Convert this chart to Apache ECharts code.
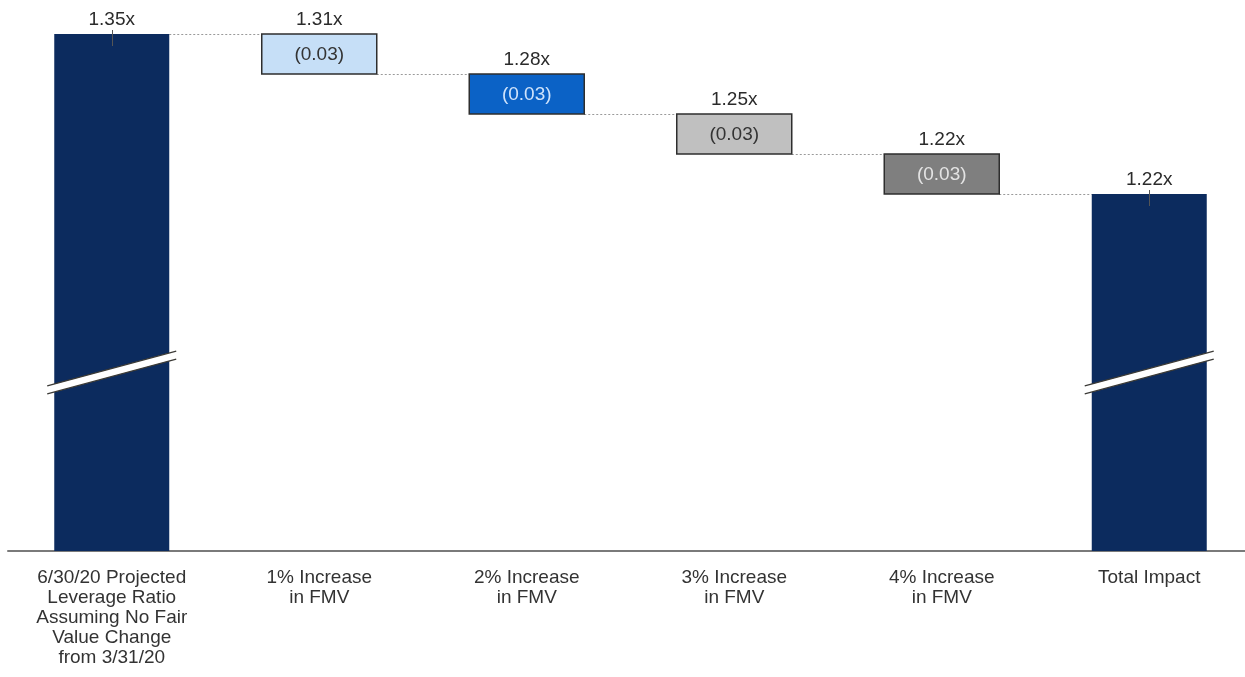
<!DOCTYPE html>
<html>
<head>
<meta charset="utf-8">
<script src="https://cdn.jsdelivr.net/npm/echarts@6/dist/echarts.min.js"></script>
<style>
  html, body { margin: 0; padding: 0; background: #ffffff; overflow: hidden; }
  #chart { width: 1245px; height: 677px; }
</style>
</head>
<body>
<div id="chart"></div>
<script>
// ---- data ----
const categories = [
  '6/30/20 Projected\nLeverage Ratio\nAssuming No Fair\nValue Change\nfrom 3/31/20',
  '1% Increase\nin FMV',
  '2% Increase\nin FMV',
  '3% Increase\nin FMV',
  '4% Increase\nin FMV',
  'Total Impact'
];
const isTotal = [true, false, false, false, false, true];
const barTop = [1.35, 1.35, 1.3175, 1.285, 1.2525, 1.22];
const barBottom = [null, 1.3175, 1.285, 1.2525, 1.22, null];
const topLabels = ['1.35x', '1.31x', '1.28x', '1.25x', '1.22x', '1.22x'];
const changeLabels = ['', '(0.03)', '(0.03)', '(0.03)', '(0.03)', ''];
const axisBase = 0.93;     // broken axis base
const breakValue = 1.075;  // where the axis-break mark sits on total bars

// ---- styles ----
const fills = ['#0c2b5e', '#c6dff7', '#0b62c6', '#c0c0c0', '#7f7f7f', '#0c2b5e'];
const innerText = ['#333', '#333333', '#cfe3fb', '#333333', '#e4e4e4', '#333'];
const FONT = 'Liberation Sans, Arial, sans-serif';
const barRatio = 115 / 207.5;

const seriesData = categories.map((c, i) => [
  i,
  isTotal[i] ? axisBase : barBottom[i],
  barTop[i]
]);

const chart = echarts.init(document.getElementById('chart'));

function renderItem(params, api) {
  const i = api.value(0);
  const lo = api.value(1);
  const hi = api.value(2);
  const pTop = api.coord([i, hi]);
  const pBot = api.coord([i, lo]);
  const catW = api.size([1, 0])[0];
  const bw = catW * barRatio;
  const cx = pTop[0];
  const children = [];

  // connector to next bar
  if (i < categories.length - 1) {
    const ly = Math.round(api.coord([i, barTop[i + 1]])[1]) + 0.5;
    children.push({
      type: 'line',
      shape: { x1: cx + bw / 2, y1: ly, x2: cx + catW - bw / 2, y2: ly },
      style: { stroke: '#9a9a9a', lineWidth: 1, lineDash: [2, 2] }
    });
  }

  // bar
  children.push({
    type: 'rect',
    shape: { x: cx - bw / 2, y: pTop[1], width: bw, height: pBot[1] - pTop[1] },
    style: isTotal[i]
      ? { fill: fills[i] }
      : { fill: fills[i], stroke: '#2e2e2e', lineWidth: 1.5 }
  });

  // top value label
  children.push({
    type: 'text',
    style: {
      text: topLabels[i], x: cx, y: pTop[1] - 5,
      align: 'center', verticalAlign: 'bottom',
      font: '19px ' + FONT, fill: '#2b2b2b'
    }
  });

  // change label inside step boxes
  if (!isTotal[i]) {
    children.push({
      type: 'text',
      style: {
        text: changeLabels[i], x: cx, y: (pTop[1] + pBot[1]) / 2 + 1,
        align: 'center', verticalAlign: 'middle',
        font: '19px ' + FONT, fill: innerText[i]
      }
    });
  } else {
    // small tick at the top centre
    children.push({
      type: 'line',
      shape: { x1: Math.round(cx) + 0.5, y1: pTop[1] - 4, x2: Math.round(cx) + 0.5, y2: pTop[1] + 12 },
      style: { stroke: '#555', lineWidth: 1 }
    });
    // axis-break mark
    const by = api.coord([i, breakValue])[1];
    const ext = bw / 2 + 7;
    const rise = ext * 0.27;
    const t = 4;
    children.push({
      type: 'polygon',
      shape: { points: [
        [cx - ext, by + rise - t], [cx + ext, by - rise - t],
        [cx + ext, by - rise + t], [cx - ext, by + rise + t]
      ] },
      style: { fill: '#ffffff' }
    });
    children.push({
      type: 'line',
      shape: { x1: cx - ext, y1: by + rise - t, x2: cx + ext, y2: by - rise - t },
      style: { stroke: '#3b3a36', lineWidth: 1.2 }
    });
    children.push({
      type: 'line',
      shape: { x1: cx - ext, y1: by + rise + t, x2: cx + ext, y2: by - rise + t },
      style: { stroke: '#3b3a36', lineWidth: 1.2 }
    });
  }
  return { type: 'group', children: children };
}

chart.setOption({
  animation: false,
  backgroundColor: '#ffffff',
  grid: { left: 8, width: 1245, top: 34, bottom: 126, outerBoundsMode: 'none', containLabel: false },
  xAxis: {
    type: 'category',
    data: categories,
    axisLine: { lineStyle: { color: '#7a7a7a', width: 2 } },
    axisTick: { show: false },
    axisLabel: {
      interval: 0, margin: 17, fontSize: 19, lineHeight: 20,
      fontFamily: FONT, color: '#333333'
    }
  },
  yAxis: {
    type: 'value', min: axisBase, max: 1.35, show: false,
    splitLine: { show: false }
  },
  series: [{
    type: 'custom',
    renderItem: renderItem,
    clip: false,
    encode: { x: 0, y: [1, 2] },
    data: seriesData
  }]
});
</script>
</body>
</html>
